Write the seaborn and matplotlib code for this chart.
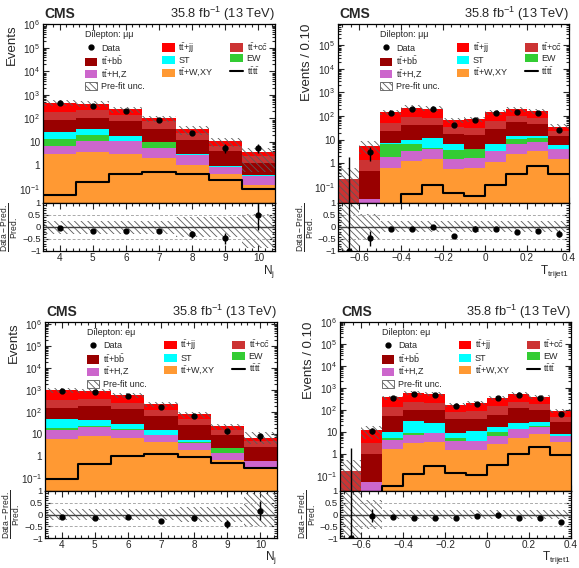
import numpy as np
import pandas as pd
import matplotlib
matplotlib.use('Agg')
import matplotlib.pyplot as plt
import matplotlib.ticker as tkr
from matplotlib.patches import Patch
from matplotlib.lines import Line2D
import seaborn as sns

sns.set_style('ticks')
plt.rcParams['font.family'] = ['Liberation Sans', 'DejaVu Sans']
plt.rcParams['mathtext.fontset'] = 'custom'
plt.rcParams['mathtext.rm'] = 'Liberation Sans'
plt.rcParams['mathtext.it'] = 'Liberation Sans:italic'
plt.rcParams['mathtext.bf'] = 'Liberation Sans:bold'
plt.rcParams['hatch.linewidth'] = 0.6
plt.rcParams['hatch.color'] = '#5a5a5a'

# ---------------- data ----------------
nj_centers = [4, 5, 6, 7, 8, 9, 10]
nj_edges = [3.5, 4.5, 5.5, 6.5, 7.5, 8.5, 9.5, 10.5]
tri_centers = [-0.65, -0.55, -0.45, -0.35, -0.25, -0.15, -0.05, 0.05, 0.15, 0.25, 0.35]
tri_edges = [-0.7, -0.6, -0.5, -0.4, -0.3, -0.2, -0.1, 0.0, 0.1, 0.2, 0.3, 0.4]

# stack order: first = top of the stack
procs = ['ttjj', 'ttcc', 'ttbb', 'ST', 'EW', 'ttHZ', 'ttW']

# dilepton mumu, N_j
mm_nj = {
    'ttjj': [280, 200, 105, 27, 9, 3.6, 1.3],
    'ttcc': [108, 120, 55, 40, 12.4, 3.1, 1.2],
    'ttbb': [55, 66, 63, 25, 9.7, 3.0, 0.9],
    'ST':   [13.5, 14, 6.5, 0.3, 0.1, 0.05, 0.02],
    'EW':   [7.1, 10, 0.2, 4.5, 0.05, 0.02, 0.01],
    'ttHZ': [3.4, 6.9, 7.3, 3.5, 1.8, 0.4, 0.2],
    'ttW':  [3.0, 3.8, 3.2, 2.0, 1.0, 0.45, 0.15],
}
mm_nj_data = [460, 345, 200, 85, 24, 5.6, 5.6]
mm_nj_tttt = [0.055, 0.2, 0.45, 0.55, 0.43, 0.23, 0.1]
mm_nj_unc_up = [0.26, 0.26, 0.26, 0.26, 0.4, 0.4, 0.53]
mm_nj_unc_dn = [0.29, 0.29, 0.29, 0.29, 0.4, 0.4, 0.86]

# dilepton mumu, T_trijet1
mm_tri = {
    'ttjj': [0, 4.2, 94, 137, 124, 34, 44, 81, 92, 75, 13],
    'ttcc': [0.21, 0.9, 26.5, 48, 41, 15.8, 15.5, 35.3, 49, 37, 9],
    'ttbb': [0, 0.45, 17, 30.6, 30.3, 11, 10.9, 21.9, 39, 32.2, 8.2],
    'ST':   [0, 0, 0.7, 2.6, 7.2, 3.2, 0, 3.4, 4.7, 2.1, 1.6],
    'EW':   [0, 0, 4.9, 3.4, 0.54, 2.1, 2.5, 0, 3.5, 3.7, 0.24],
    'ttHZ': [0, 0.03, 1.24, 2.15, 2.36, 0.92, 1.08, 2.3, 4.2, 4.7, 2.46],
    'ttW':  [0, 0, 0.66, 1.25, 1.6, 0.58, 0.62, 1.1, 2.6, 3.3, 1.5],
}
mm_tri_data = [0, 3, 133, 207, 207, 42, 68, 133, 156, 133, 26]
mm_tri_tttt = [0, 0, 0, 0.051, 0.117, 0.056, 0.041, 0.125, 0.35, 0.77, 0.35]
mm_tri_unc_up = [2.0, 0.55, 0.25, 0.25, 0.25, 0.25, 0.25, 0.25, 0.25, 0.25, 0.25]
mm_tri_unc_dn = [1.0, 0.55, 0.22, 0.22, 0.22, 0.22, 0.22, 0.22, 0.22, 0.22, 0.22]

# dilepton emu, N_j
em_nj = {
    'ttjj': [620, 530, 325, 117, 32, 7.8, 2.2],
    'ttcc': [222, 220, 123, 53, 22.5, 6.2, 2.0],
    'ttbb': [107, 154, 111.5, 54.8, 22.2, 6.6, 2.2],
    'ST':   [31.6, 23, 13, 5.6, 1.0, 0, 0],
    'EW':   [4.2, 1.4, 1.2, 0, 0.3, 0.9, 0],
    'ttHZ': [9.1, 12.9, 9.5, 5.3, 2.0, 0.8, 0.27],
    'ttW':  [6.1, 8.7, 6.8, 4.3, 2.0, 0.7, 0.33],
}
em_nj_data = [900, 810, 530, 175, 70, 13.7, 8.1]
em_nj_tttt = [0.097, 0.45, 1.0, 1.3, 0.93, 0.5, 0.3]
em_nj_unc_up = [0.23, 0.23, 0.23, 0.23, 0.3, 0.3, 0.9]
em_nj_unc_dn = [0.24, 0.24, 0.24, 0.24, 0.3, 0.3, 0.5]

# dilepton emu, T_trijet1
em_tri = {
    'ttjj': [0, 8.8, 236, 378, 324, 88, 115, 199, 294, 215, 42],
    'ttcc': [0.17, 2.1, 79, 117, 105, 39, 44, 95, 117, 82, 19],
    'ttbb': [0, 0.95, 41.8, 73, 74, 31.4, 29.1, 43, 94, 75, 20.3],
    'ST':   [0, 0, 5.1, 20.8, 16.8, 3.5, 7.2, 6.8, 10, 9.2, 1.0],
    'EW':   [0, 0, 0.9, 2.0, 0.6, 1.4, 0, 3.5, 0.6, 1.8, 0.6],
    'ttHZ': [0, 0.05, 2.64, 4.1, 5.2, 2.3, 2.3, 3.9, 8.3, 9.3, 2.7],
    'ttW':  [0, 0, 1.56, 3.1, 3.4, 1.4, 1.4, 2.8, 5.1, 7.7, 3.4],
}
em_tri_data = [0, 11.3, 330, 520, 460, 145, 185, 340, 460, 340, 62]
em_tri_tttt = [0, 0, 0.033, 0.12, 0.28, 0.13, 0.11, 0.31, 0.93, 1.98, 0.87]
em_tri_unc_up = [2.0, 0.6, 0.2, 0.2, 0.2, 0.2, 0.2, 0.2, 0.2, 0.2, 0.2]
em_tri_unc_dn = [1.0, 0.6, 0.2, 0.2, 0.2, 0.2, 0.2, 0.2, 0.2, 0.2, 0.2]

colors = {'ttjj': '#ff0000', 'ttcc': '#cc3333', 'ttbb': '#990000', 'ST': '#00ffff',
          'EW': '#33cc33', 'ttHZ': '#cc66cc', 'ttW': '#ff9933'}
labels = {'ttjj': r'$\mathrm{t\bar{t}}$+jj', 'ttcc': r'$\mathrm{t\bar{t}}$+c$\mathrm{\bar{c}}$',
          'ttbb': r'$\mathrm{t\bar{t}}$+b$\mathrm{\bar{b}}$', 'ST': 'ST', 'EW': 'EW',
          'ttHZ': r'$\mathrm{t\bar{t}}$+H,Z', 'ttW': r'$\mathrm{t\bar{t}}$+W,XY'}

HATCH = '\\' * 5
UNC_COL = '#5a5a5a'


def minus(v, pos):
    if abs(v) < 1e-9:
        return '0'
    return ('%g' % v).replace('-', '\u2212')


def logfmt(v, pos):
    e = int(round(np.log10(v)))
    if e == 0:
        return '1'
    if e == 1:
        return '10'
    return r'$10^{%d}$' % e


def draw(ax, rax, centers, edges, stack, data, tttt, up, dn, ylim, channel,
         xlabel, ylabel, xmaj, xmin, xpad=0):
    rows = []
    for p in procs:
        for c, v in zip(centers, stack[p]):
            rows.append({'x': c, 'w': v, 'proc': p})
    df = pd.DataFrame(rows)
    sns.histplot(data=df, x='x', weights='w', hue='proc', hue_order=procs, palette=colors,
                 multiple='stack', bins=edges, element='bars', linewidth=0, alpha=1,
                 legend=False, ax=ax)
    ax.set_yscale('log')
    sns.histplot(x=centers, weights=tttt, bins=edges, element='step', fill=False,
                 color='black', linewidth=1.5, ax=ax)

    total = np.sum([stack[p] for p in procs], axis=0)
    up = np.array(up)
    dn = np.array(dn)
    widths = np.diff(edges)
    ax.bar(centers, total * (up + dn), bottom=total * (1 - dn), width=widths, fill=False,
           hatch=HATCH, edgecolor=UNC_COL, linewidth=0)

    data = np.array(data, dtype=float)
    lo = np.sqrt(data)
    hi = np.where(data == 0, 1.84, np.sqrt(data))
    ax.errorbar(centers, data, yerr=[lo, hi], fmt='o', ms=3.5, color='black',
                elinewidth=1, capsize=0)

    ax.set_xlim(edges[0], edges[-1])
    ax.set_ylim(*ylim)
    ax.set_xlabel('')
    ax.set_ylabel(ylabel, loc='top', fontsize=9.5)
    ax.yaxis.set_label_coords(-0.11, 1.0)
    # only decades inside the visible range
    lo_e = int(np.ceil(np.log10(ylim[0]) - 1e-6))
    hi_e = int(np.floor(np.log10(ylim[1]) + 1e-6))
    decades = [10.0 ** e for e in range(lo_e, hi_e + 1)]
    minors = [m * 10.0 ** e for e in range(lo_e - 1, hi_e + 1) for m in range(2, 10)
              if ylim[0] <= m * 10.0 ** e <= ylim[1]]
    ax.yaxis.set_major_locator(tkr.FixedLocator(decades))
    ax.yaxis.set_minor_locator(tkr.FixedLocator(minors))
    ax.yaxis.set_major_formatter(tkr.FuncFormatter(logfmt))
    ax.yaxis.set_minor_formatter(tkr.NullFormatter())

    ax.annotate('CMS', xy=(0, 1), xycoords='axes fraction', xytext=(1, 4),
                textcoords='offset points', fontsize=10, fontweight='bold', va='baseline')
    ax.annotate(r'35.8 fb$^{-1}$ (13 TeV)', xy=(1, 1), xycoords='axes fraction',
                xytext=(0, 4), textcoords='offset points', fontsize=9.3, ha='right',
                va='baseline')

    handles = [Line2D([], [], marker='o', color='black', ls='none', ms=3.5),
               Patch(facecolor=colors['ttbb'], lw=0),
               Patch(facecolor=colors['ttHZ'], lw=0),
               Patch(facecolor='white', edgecolor=UNC_COL, hatch=HATCH, lw=0.6),
               Patch(facecolor=colors['ttjj'], lw=0),
               Patch(facecolor=colors['ST'], lw=0),
               Patch(facecolor=colors['ttW'], lw=0),
               Patch(facecolor=colors['ttcc'], lw=0),
               Patch(facecolor=colors['EW'], lw=0),
               Line2D([], [], color='black', lw=1.5)]
    names = ['Data', labels['ttbb'], labels['ttHZ'], 'Pre-fit unc.', labels['ttjj'],
             labels['ST'], labels['ttW'], labels['ttcc'], labels['EW'],
             r'$\mathrm{t\bar{t}t\bar{t}}$']
    ax.legend(handles, names, ncol=3, loc='upper left', bbox_to_anchor=(0.18, 0.965),
              frameon=False, fontsize=6.5, title=channel, title_fontsize=6.5,
              alignment='left', borderpad=0, borderaxespad=0, handlelength=1.4,
              handleheight=1.0, handletextpad=0.4, labelspacing=0.18,
              columnspacing=1.9)

    # ratio panel
    rax.bar(centers, up + dn, bottom=-dn, width=widths, fill=False, hatch=HATCH,
            edgecolor=UNC_COL, linewidth=0)
    rax.axhline(0, color='#404040', lw=1)
    rax.axhline(0.5, color='#aaaaaa', lw=0.7, ls=(0, (3, 2)))
    rax.axhline(-0.5, color='#aaaaaa', lw=0.7, ls=(0, (3, 2)))
    ratio = data / total - 1
    rax.errorbar(centers, ratio, yerr=[lo / total, hi / total], fmt='o', ms=3.5,
                 color='black', elinewidth=1, capsize=0)
    rax.set_xlim(edges[0], edges[-1])
    rax.set_ylim(-1, 1)
    rax.yaxis.set_major_locator(tkr.FixedLocator([-1, -0.5, 0, 0.5, 1]))
    rax.yaxis.set_minor_locator(tkr.MultipleLocator(0.1))
    rax.yaxis.set_major_formatter(tkr.FuncFormatter(minus))
    rax.set_ylabel(r'$\frac{\mathrm{Data-Pred.}}{\mathrm{Pred.}}$', fontsize=8.8)
    rax.yaxis.set_label_coords(-0.097, 0.5)
    rax.set_xlabel(xlabel, loc='right', fontsize=8.5, labelpad=xpad)

    for a in (ax, rax):
        a.xaxis.set_major_locator(tkr.MultipleLocator(xmaj))
        a.xaxis.set_minor_locator(tkr.MultipleLocator(xmin))
        a.tick_params(which='both', direction='in', top=True, right=True, labelsize=7.2,
                      width=0.8, pad=2)
        a.tick_params(which='major', length=4.5)
        a.tick_params(which='minor', length=2.2)
        for s in a.spines.values():
            s.set_linewidth(0.9)
            s.set_color('black')
    ax.tick_params(labelbottom=False)
    rax.tick_params(axis='y', labelsize=6.8, pad=1.5)
    rax.tick_params(axis='x', pad=1.5)
    rax.xaxis.set_major_formatter(tkr.FuncFormatter(minus))


fig = plt.figure(figsize=(5.79, 5.68), dpi=100)
W, H = 579.0, 568.0


def axes_at(x0, x1, ytop, ybot):
    return fig.add_axes([x0 / W, 1 - ybot / H, (x1 - x0) / W, (ybot - ytop) / H])


ax1 = axes_at(43, 275, 24, 203)
rax1 = axes_at(43, 275, 203, 251)
ax2 = axes_at(338, 569, 24, 203)
rax2 = axes_at(338, 569, 203, 251)
ax3 = axes_at(45, 277, 322, 491)
rax3 = axes_at(45, 277, 491, 538)
ax4 = axes_at(340, 571, 322, 491)
rax4 = axes_at(340, 571, 491, 538)

draw(ax1, rax1, nj_centers, nj_edges, mm_nj, mm_nj_data, mm_nj_tttt, mm_nj_unc_up,
     mm_nj_unc_dn, (10 ** -1.6, 10 ** 6.02), 'Dilepton: \u03bc\u03bc', r'N$_{\mathrm{j}}$',
     'Events', 1, 0.2)
draw(ax2, rax2, tri_centers, tri_edges, mm_tri, mm_tri_data, mm_tri_tttt, mm_tri_unc_up,
     mm_tri_unc_dn, (10 ** -1.68, 10 ** 5.9), 'Dilepton: \u03bc\u03bc',
     r'T$_{\mathrm{trijet1}}$', 'Events / 0.10', 0.2, 0.04)
draw(ax3, rax3, nj_centers, nj_edges, em_nj, em_nj_data, em_nj_tttt, em_nj_unc_up,
     em_nj_unc_dn, (10 ** -1.57, 10 ** 6.1), 'Dilepton: e\u03bc', r'N$_{\mathrm{j}}$',
     'Events', 1, 0.2, xpad=-0.5)
draw(ax4, rax4, tri_centers, tri_edges, em_tri, em_tri_data, em_tri_tttt, em_tri_unc_up,
     em_tri_unc_dn, (10 ** -1.7, 10 ** 6.0), 'Dilepton: e\u03bc',
     r'T$_{\mathrm{trijet1}}$', 'Events / 0.10', 0.2, 0.04, xpad=-0.5)

fig.savefig('out.png', dpi=100)
